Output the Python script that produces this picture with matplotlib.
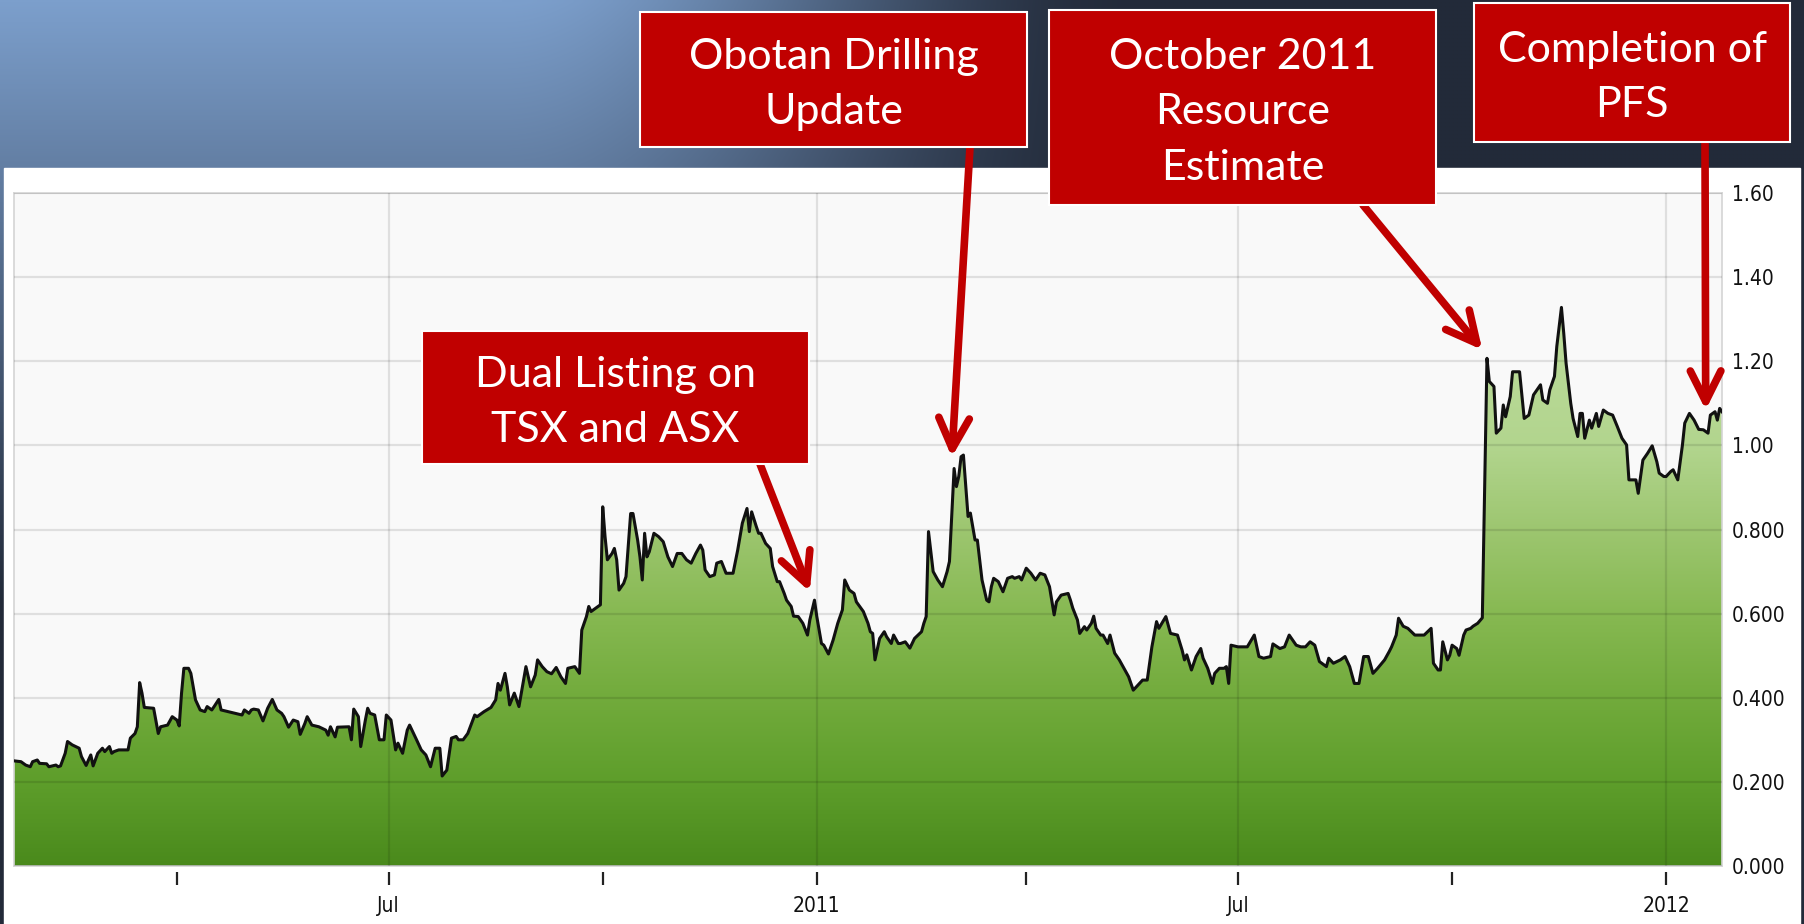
import numpy as np
import pandas as pd
import matplotlib
matplotlib.use("Agg")
import matplotlib.pyplot as plt
import matplotlib.dates as mdates
from matplotlib.colors import LinearSegmentedColormap, to_rgb
from matplotlib.patches import Rectangle
from matplotlib.ticker import FuncFormatter

# share price (days counted from 1 Jan 2011)
base_date = pd.Timestamp("2011-01-01")
day = [
    -345, -342, -340, -338, -337, -335, -334, -331, -330, -327,
    -326, -325, -323, -322, -320, -317, -316, -314, -313, -312,
    -311, -309, -307, -306, -304, -303, -302, -300, -296, -295,
    -293, -292, -291, -290, -289, -285, -283, -282, -279, -277,
    -275, -274, -273, -272, -270, -269, -267, -265, -263, -262,
    -260, -259, -257, -256, -253, -250, -247, -246, -244, -243,
    -242, -240, -238, -236, -234, -232, -230, -229, -227, -225,
    -223, -222, -220, -219, -217, -214, -211, -210, -209, -207,
    -206, -201, -200, -199, -197, -196, -194, -193, -192, -190,
    -188, -186, -185, -183, -181, -180, -178, -176, -175, -172,
    -170, -168, -166, -164, -162, -161, -159, -157, -155, -154,
    -152, -150, -147, -146, -143, -140, -138, -137, -136, -134,
    -133, -132, -130, -128, -127, -125, -124, -123, -121, -120,
    -118, -116, -114, -112, -110, -108, -107, -104, -102, -101,
    -99, -98, -97, -95, -93, -92, -91, -90, -88, -87,
    -86, -85, -83, -82, -80, -79, -77, -76, -75, -74,
    -73, -72, -70, -68, -66, -64, -62, -60, -58, -56,
    -54, -52, -50, -49, -48, -46, -44, -43, -41, -39,
    -36, -34, -32, -30, -29, -28, -26, -25, -24, -22,
    -20, -19, -17, -16, -14, -13, -11, -10, -8, -6,
    -4, -3, -1, 0, 2, 3, 5, 7, 9, 11,
    12, 14, 16, 17, 20, 22, 23, 24, 25, 27,
    29, 30, 32, 33, 35, 36, 38, 40, 42, 45,
    46, 47, 48, 50, 52, 54, 56, 57, 59, 60,
    61, 62, 63, 65, 66, 68, 69, 71, 73, 74,
    75, 76, 78, 80, 82, 84, 85, 87, 88, 90,
    92, 94, 96, 98, 100, 102, 103, 105, 108, 109,
    110, 112, 113, 115, 116, 118, 119, 120, 122, 123,
    125, 126, 128, 130, 132, 134, 136, 138, 140, 142,
    144, 146, 147, 150, 152, 155, 157, 158, 159, 161,
    163, 165, 166, 168, 170, 171, 173, 175, 176, 177,
    178, 181, 185, 188, 190, 192, 195, 196, 199, 201,
    203, 206, 208, 210, 212, 214, 216, 219, 220, 222,
    225, 227, 229, 231, 233, 235, 237, 239, 241, 244,
    246, 247, 249, 250, 252, 254, 257, 261, 264, 265,
    267, 268, 269, 271, 272, 273, 275, 276, 278, 279,
    281, 282, 284, 286, 288, 289, 291, 292, 294, 295,
    296, 298, 299, 302, 304, 306, 308, 311, 312, 314,
    315, 317, 318, 320, 321, 322, 324, 325, 327, 328,
    329, 330, 332, 333, 335, 336, 338, 340, 342, 344,
    346, 348, 349, 352, 353, 355, 357, 359, 361, 362,
    364, 365, 367, 368, 370, 372, 373, 375, 377, 379,
    381, 383, 384, 386, 387, 388, 389,
]
price = [
    0.250, 0.248, 0.240, 0.236, 0.248, 0.252, 0.244, 0.243, 0.236, 0.240,
    0.236, 0.238, 0.268, 0.296, 0.288, 0.280, 0.260, 0.239, 0.252, 0.264,
    0.238, 0.268, 0.280, 0.272, 0.284, 0.268, 0.272, 0.276, 0.276, 0.304,
    0.315, 0.331, 0.436, 0.411, 0.377, 0.375, 0.315, 0.331, 0.335, 0.355,
    0.347, 0.333, 0.411, 0.470, 0.470, 0.458, 0.395, 0.371, 0.367, 0.379,
    0.371, 0.379, 0.396, 0.371, 0.367, 0.363, 0.359, 0.371, 0.363, 0.371,
    0.373, 0.371, 0.345, 0.375, 0.396, 0.371, 0.363, 0.355, 0.330, 0.347,
    0.343, 0.313, 0.339, 0.355, 0.335, 0.331, 0.323, 0.311, 0.331, 0.307,
    0.330, 0.331, 0.300, 0.373, 0.355, 0.284, 0.347, 0.375, 0.363, 0.359,
    0.300, 0.300, 0.359, 0.347, 0.276, 0.292, 0.268, 0.323, 0.335, 0.300,
    0.276, 0.264, 0.236, 0.280, 0.280, 0.214, 0.228, 0.304, 0.308, 0.300,
    0.300, 0.315, 0.359, 0.355, 0.367, 0.377, 0.395, 0.434, 0.418, 0.458,
    0.426, 0.383, 0.411, 0.379, 0.411, 0.474, 0.450, 0.426, 0.454, 0.490,
    0.474, 0.462, 0.457, 0.472, 0.450, 0.434, 0.470, 0.474, 0.458, 0.561,
    0.593, 0.617, 0.605, 0.613, 0.621, 0.854, 0.783, 0.728, 0.743, 0.755,
    0.728, 0.656, 0.672, 0.688, 0.838, 0.838, 0.775, 0.735, 0.680, 0.791,
    0.735, 0.747, 0.791, 0.783, 0.771, 0.735, 0.712, 0.743, 0.743, 0.728,
    0.720, 0.743, 0.763, 0.751, 0.704, 0.688, 0.692, 0.720, 0.724, 0.696,
    0.696, 0.751, 0.815, 0.850, 0.795, 0.842, 0.807, 0.791, 0.791, 0.767,
    0.755, 0.712, 0.676, 0.676, 0.648, 0.632, 0.617, 0.594, 0.593, 0.577,
    0.549, 0.585, 0.632, 0.593, 0.529, 0.525, 0.504, 0.537, 0.577, 0.609,
    0.680, 0.656, 0.648, 0.628, 0.605, 0.577, 0.557, 0.553, 0.490, 0.541,
    0.557, 0.545, 0.529, 0.549, 0.529, 0.529, 0.533, 0.518, 0.541, 0.557,
    0.577, 0.593, 0.795, 0.700, 0.680, 0.664, 0.700, 0.724, 0.945, 0.902,
    0.926, 0.973, 0.977, 0.831, 0.839, 0.775, 0.775, 0.680, 0.632, 0.628,
    0.664, 0.684, 0.676, 0.652, 0.684, 0.688, 0.684, 0.688, 0.680, 0.708,
    0.696, 0.680, 0.696, 0.692, 0.664, 0.597, 0.628, 0.644, 0.648, 0.632,
    0.613, 0.585, 0.553, 0.569, 0.561, 0.577, 0.594, 0.565, 0.549, 0.549,
    0.529, 0.549, 0.506, 0.490, 0.470, 0.450, 0.418, 0.430, 0.442, 0.442,
    0.521, 0.581, 0.565, 0.593, 0.553, 0.549, 0.513, 0.490, 0.502, 0.466,
    0.498, 0.517, 0.494, 0.470, 0.434, 0.458, 0.470, 0.470, 0.474, 0.434,
    0.525, 0.521, 0.521, 0.549, 0.498, 0.494, 0.498, 0.528, 0.517, 0.521,
    0.549, 0.525, 0.521, 0.521, 0.533, 0.525, 0.486, 0.474, 0.494, 0.482,
    0.490, 0.498, 0.474, 0.434, 0.434, 0.498, 0.498, 0.458, 0.470, 0.490,
    0.510, 0.521, 0.549, 0.589, 0.570, 0.565, 0.549, 0.549, 0.565, 0.482,
    0.466, 0.466, 0.533, 0.490, 0.501, 0.525, 0.517, 0.501, 0.549, 0.561,
    0.565, 0.570, 0.577, 0.590, 1.207, 1.152, 1.140, 1.029, 1.041, 1.096,
    1.068, 1.116, 1.175, 1.175, 1.064, 1.072, 1.120, 1.144, 1.108, 1.100,
    1.132, 1.164, 1.235, 1.328, 1.266, 1.195, 1.100, 1.064, 1.021, 1.076,
    1.076, 1.017, 1.060, 1.041, 1.076, 1.045, 1.084, 1.076, 1.072, 1.045,
    1.017, 1.001, 0.918, 0.918, 0.886, 0.965, 0.981, 0.999, 0.961, 0.934,
    0.926, 0.926, 0.938, 0.942, 0.918, 1.001, 1.053, 1.076, 1.060, 1.038,
    1.037, 1.029, 1.072, 1.080, 1.060, 1.088, 1.080,
]

y_ticks = [0.0, 0.2, 0.4, 0.6, 0.8, 1.0, 1.2, 1.4, 1.6]
y_tick_labels = ["0.000", "0.200", "0.400", "0.600", "0.800",
                 "1.00", "1.20", "1.40", "1.60"]

# callouts: text, the day/price the arrow points at
events = ["Dual Listing on\nTSX and ASX", "Obotan Drilling\nUpdate",
          "October 2011\nResource\nEstimate", "Completion of\nPFS"]
event_day = [-3, 58, 286, 382]
event_price = [0.652, 0.972, 1.227, 1.084]

# box layout in figure pixels (left, top, right, bottom measured from top)
box_px = [(422, 331, 809, 464), (640, 12, 1027, 147),
          (1049, 10, 1436, 205), (1474, 3, 1790, 142)]
tail_px = [(760, 464), (970, 147), (1363, 205), (1705, 142)]

W, H = 1804, 924
plt.rcParams["font.family"] = ["DejaVu Sans"]
plt.rcParams["font.stretch"] = "condensed"

fig = plt.figure(figsize=(W / 100, H / 100), dpi=100)

# --- slide background ---
bg = fig.add_axes([0, 0, 1, 1], zorder=-10)
gy, gx = np.mgrid[0:H:4, 0:W:4]
tx = np.clip((gx - 500) / 650, 0, 1)
tx = tx * tx * (3 - 2 * tx)
ty = np.clip(gy / 600, 0, 1)
t = (1 - (1 - tx) * (1 - ty))[..., None]
light = np.array(to_rgb("#7c9fcc"))
dark = np.array(to_rgb("#222a39"))
bg.imshow(light * (1 - t) + dark * t, extent=[0, 1, 0, 1], aspect="auto",
          origin="upper", interpolation="bilinear")
bg.add_patch(Rectangle((4 / W, 0), 1796 / W, (H - 168) / H,
                       transform=bg.transAxes, color="white"))
bg.set_xlim(0, 1)
bg.set_ylim(0, 1)
bg.axis("off")

# --- chart ---
ax = fig.add_axes([14 / W, (H - 866) / H, (1722 - 14) / W, (866 - 193) / H])
ax.set_facecolor("#f9f9f9")

x = mdates.date2num(base_date + pd.to_timedelta(day, unit="D"))

green = LinearSegmentedColormap.from_list("green", [
    (0.0, "#4a8a1c"), (0.125, "#5e9e2b"), (0.25, "#72ab3c"),
    (0.375, "#87b952"), (0.5, "#9dc670"), (0.625, "#b2d58e"),
    (1.0, "#c6e2a8")])
fill = ax.fill_between(x, price, 0, facecolor="none", edgecolor="none")
grad = np.linspace(0, 1, 256).reshape(-1, 1)
im = ax.imshow(grad, extent=[x[0], x[-1], 0, 1.6], origin="lower",
               aspect="auto", cmap=green, zorder=1)
im.set_clip_path(fill.get_paths()[0], transform=ax.transData)
ax.plot(x, price, color="#111111", lw=2.2, zorder=3)

ax.set_xlim(x[0], x[-1])
ax.set_ylim(0, 1.6)

ax.xaxis.set_major_locator(mdates.MonthLocator(bymonth=[1, 7]))
ax.tick_params(axis="x", length=0, labelbottom=False)
ax.set_yticks(y_ticks)
ax.set_yticklabels(y_tick_labels)
ax.yaxis.tick_right()
ax.tick_params(axis="y", length=0, pad=7, labelsize=15, labelcolor="#111111")
ax.set_axisbelow(False)
ax.grid(True, color="black", alpha=0.1, lw=1.6, zorder=2)
for s in ax.spines.values():
    s.set_color("#d4d4d4")
    s.set_linewidth(1.2)

sec = ax.secondary_xaxis(-6 / 673)
sec.spines["bottom"].set_visible(False)
sec.xaxis.set_major_locator(mdates.MonthLocator(bymonth=[1, 7]))
sec.xaxis.set_minor_locator(mdates.MonthLocator(bymonth=[4, 10]))
sec.xaxis.set_major_formatter(FuncFormatter(
    lambda v, pos: str(mdates.num2date(v).year)
    if mdates.num2date(v).month == 1 else "Jul"))
sec.tick_params(which="both", length=9, width=1.6, color="#222222",
                direction="out", pad=8, labelsize=15, labelcolor="#111111")

# --- callouts ---
for label, (l, t_, r, b), (txp, typ), d, p in zip(
        events, box_px, tail_px, event_day, event_price):
    fig.add_artist(Rectangle((l / W, 1 - b / H), (r - l) / W, (b - t_) / H,
                             transform=fig.transFigure, facecolor="#c00000",
                             edgecolor="white", lw=1.5, zorder=5))
    fig.text((l + r) / 2 / W, 1 - ((t_ + b) / 2 + 5) / H, label, ha="center",
             va="center", color="white", fontsize=31, family="Lato",
             fontstretch="normal", linespacing=1.55, zorder=6)
    xd = mdates.date2num(base_date + pd.Timedelta(days=d))
    ax.annotate("", xy=(xd, p), xycoords="data", xytext=(txp, H - typ),
                textcoords="figure pixels", annotation_clip=False,
                arrowprops=dict(arrowstyle="->,head_length=2.2,head_width=1.1",
                                color="#c00000", lw=5.5, shrinkA=0, shrinkB=0,
                                mutation_scale=10), zorder=6)

fig.savefig("out.png", dpi=100)
